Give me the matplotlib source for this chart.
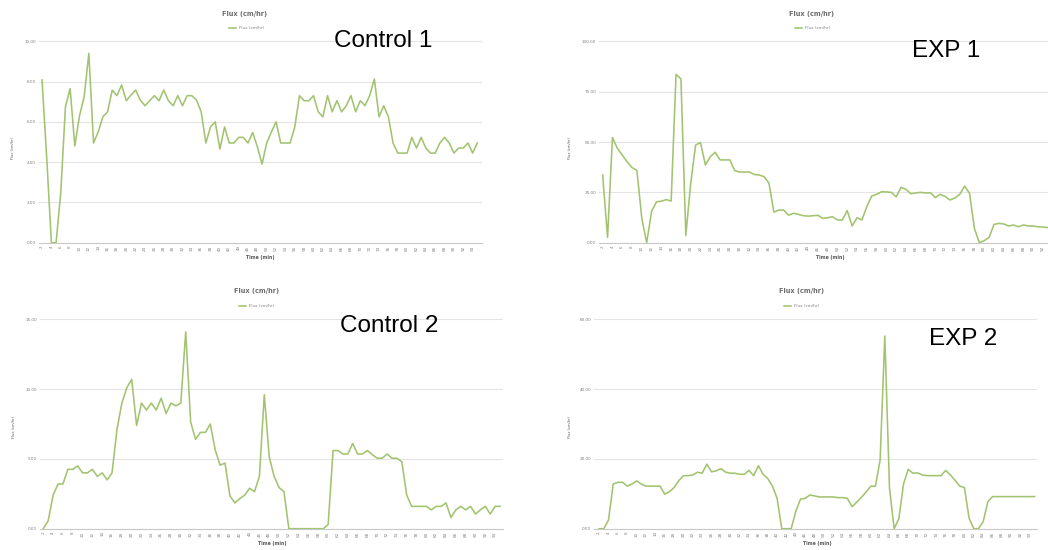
import numpy as np
import matplotlib.pyplot as plt
from matplotlib.ticker import FormatStrFormatter

# ---- data: flux readings (cm/hr), one reading per time step ----
time_min = list(range(2, 96))

control1 = [8.08, 4.2, 0, 0, 2.5, 6.75, 7.65, 4.8, 6.3, 7.25,
            9.4, 4.95, 5.5, 6.25, 6.5, 7.58, 7.3, 7.83, 7.05, 7.33,
            7.58, 7.08, 6.8, 7.05, 7.3, 7.05, 7.58, 7.05, 6.8, 7.3,
            6.8, 7.3, 7.3, 7.08, 6.5, 4.95, 5.75, 6.0, 4.65, 5.75,
            4.95, 4.95, 5.23, 5.23, 4.95, 5.47, 4.77, 3.9, 4.95, 5.5,
            6.0, 4.95, 4.95, 4.95, 5.75, 7.3, 7.05, 7.05, 7.3, 6.5,
            6.25, 7.3, 6.5, 7.05, 6.5, 6.8, 7.3, 6.5, 7.05, 6.8,
            7.3, 8.13, 6.25, 6.8, 6.25, 4.95, 4.45, 4.45, 4.45, 5.23,
            4.7, 5.23, 4.7, 4.45, 4.45, 4.95, 5.23, 4.95, 4.45, 4.7,
            4.7, 4.95, 4.45, 4.95]

exp1 = [33.6, 2.6, 52.2, 46.9, 43.5, 40.2, 37.3, 35.9, 12.1, 0,
        15.5, 20.3, 20.6, 21.4, 20.7, 83.6, 81.3, 3.6, 29.5, 48.5,
        49.7, 38.6, 42.7, 44.9, 41.1, 41.1, 41.1, 35.8, 35.1, 35.1,
        35.1, 33.9, 33.6, 32.8, 29.5, 15.2, 16.2, 16.2, 13.7, 14.6,
        14.1, 13.4, 13.2, 13.4, 13.6, 12.1, 12.4, 12.9, 11.3, 11.3,
        15.9, 8.3, 12.4, 11.3, 17.9, 23.2, 24.0, 25.3, 25.2, 25.0,
        22.8, 27.5, 26.5, 24.3, 24.7, 25.0, 24.7, 24.8, 22.4, 24.0,
        23.0, 21.2, 22.2, 24.0, 28.1, 24.5, 7.1, 0, 1.0, 2.6,
        9.1, 9.6, 9.3, 8.3, 8.8, 7.9, 8.8, 8.3, 8.3, 7.9,
        7.8, 7.5, 7.4, 7.3]

control2 = [0, 0.57, 2.4, 3.2, 3.2, 4.25, 4.25, 4.5, 4.0, 4.0,
            4.25, 3.75, 4.0, 3.5, 4.0, 7.1, 9.0, 10.1, 10.7, 7.4,
            9.0, 8.5, 9.0, 8.5, 9.35, 8.25, 9.0, 8.8, 9.0, 14.1,
            7.65, 6.4, 6.9, 6.9, 7.5, 5.65, 4.55, 4.7, 2.35, 1.85,
            2.15, 2.4, 2.9, 2.65, 3.75, 9.6, 5.15, 3.75, 2.95, 2.65,
            0, 0, 0, 0, 0, 0, 0, 0, 0.3, 5.6,
            5.6, 5.35, 5.35, 6.1, 5.35, 5.35, 5.6, 5.3, 5.05, 5.05,
            5.35, 5.05, 5.05, 4.8, 2.4, 1.6, 1.6, 1.6, 1.6, 1.35,
            1.6, 1.6, 1.85, 0.8, 1.35, 1.6, 1.35, 1.6, 1.05, 1.35,
            1.6, 1.05, 1.6, 1.6]

exp2 = [0, 0, 2.5, 12.8, 13.3, 13.3, 12.2, 12.8, 13.7, 12.8,
        12.2, 12.2, 12.2, 12.2, 9.9, 10.6, 11.8, 13.75, 15.2, 15.2,
        15.4, 16.2, 15.9, 18.5, 16.3, 16.6, 17.2, 16.2, 15.9, 15.9,
        15.6, 15.6, 16.7, 15.2, 18.05, 15.6, 14.4, 12.2, 8.7, 0,
        0, 0, 5.0, 8.5, 8.7, 9.65, 9.4, 9.1, 9.1, 9.1,
        9.1, 8.9, 8.9, 8.7, 6.3, 7.6, 9.0, 10.5, 12.2, 12.2,
        19.7, 55.2, 11.6, 0, 2.9, 12.8, 17.0, 15.9, 16.0, 15.4,
        15.2, 15.2, 15.2, 15.2, 16.7, 15.4, 13.9, 12.2, 11.8, 3.0,
        0, 0, 2.0, 7.7, 9.2, 9.2, 9.2, 9.2, 9.2, 9.2,
        9.2, 9.2, 9.2, 9.2]

ticks_control1 = [0, 2, 4, 6, 8, 10]
ticks_exp1 = [0, 25, 50, 75, 100]
ticks_control2 = [0, 5, 10, 15]
ticks_exp2 = [0, 20, 40, 60]

W, H = 1048, 550
LINE = '#A2C36F'
GRID = '#E4E4E4'
GRAY = '#7F7F7F'

fig = plt.figure(figsize=(W / 100, H / 100), dpi=100)
fig.patch.set_facecolor('white')


def fx(x):
    return x / W


def fy(y):
    return 1 - y / H


def panel(box, values, yticks, xlim, title_xy, legend_xy, xlabel_xy, ylabel_xy,
          name, name_xy, last_label=None):
    left, top, right, bottom = box
    ax = fig.add_axes([fx(left), fy(bottom), (right - left) / W, (bottom - top) / H])
    ax.plot(time_min, values, color=LINE, lw=1.15, label='Flux (cm/hr)',
            solid_joinstyle='round', clip_on=False)
    ax.set_ylim(yticks[0], yticks[-1])
    ax.set_yticks(yticks)
    ax.yaxis.set_major_formatter(FormatStrFormatter('%.2f'))
    ax.set_xlim(*xlim)
    xt = [t for t in time_min[::2] if last_label is None or t <= last_label]
    ax.set_xticks(xt)
    ax.set_xticklabels([str(t) for t in xt], rotation=90)
    ax.tick_params(axis='both', length=0, labelsize=3, colors=GRAY, pad=2)
    ax.grid(axis='y', color=GRID, lw=0.8)
    ax.set_axisbelow(True)
    for s in ('top', 'right', 'left'):
        ax.spines[s].set_visible(False)
    ax.spines['bottom'].set_color('#C8C8C8')
    ax.spines['bottom'].set_linewidth(0.8)

    fig.text(fx(title_xy[0]), fy(title_xy[1]), 'Flux (cm/hr)', ha='center',
             va='center', fontsize=4.8, fontweight='bold', color='#6E6E6E')
    ax.legend(loc='center', bbox_to_anchor=(fx(legend_xy[0]), fy(legend_xy[1])),
              bbox_transform=fig.transFigure, frameon=False, fontsize=3,
              handlelength=1.6, handletextpad=0.8, labelcolor=GRAY)
    fig.text(fx(xlabel_xy[0]), fy(xlabel_xy[1]), 'Time (min)', ha='center',
             va='center', fontsize=3.3, fontweight='bold', color='#595959')
    fig.text(fx(ylabel_xy[0]), fy(ylabel_xy[1]), 'Flux (cm/hr)', ha='center',
             va='center', rotation=90, fontsize=2.6, color='#595959')
    fig.text(fx(name_xy[0]), fy(name_xy[1]), name, ha='center', va='center',
             fontsize=17.5, family='Liberation Sans', color='black')
    return ax


panel((39, 41.3, 482, 242.7), control1, ticks_control1, (1.35, 96.0),
      (245, 14), (247, 28), (260, 257), (13, 148), 'Control 1', (383, 41))
# this chart runs past the right edge of the figure; labels stop at the edge
panel((599, 41.3, 1061, 242.7), exp1, ticks_exp1, (1.25, 95.7),
      (812, 14), (813, 28), (830, 257), (570, 148), 'EXP 1', (946, 51),
      last_label=92)
panel((40, 319.3, 503, 528.7), control2, ticks_control2, (1.33, 95.6),
      (257, 291), (257, 306), (272, 544), (14, 427), 'Control 2', (389, 326))
panel((594, 319.3, 1037, 528.7), exp2, ticks_exp2, (0.9, 95.5),
      (802, 291), (802, 306), (817, 544), (570, 427), 'EXP 2', (963, 339))

fig.savefig('out.png', dpi=100)
